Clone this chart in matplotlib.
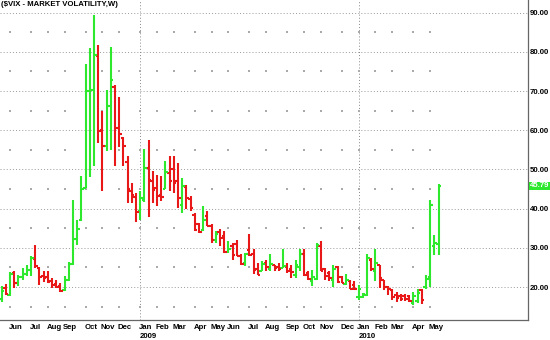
import matplotlib
matplotlib.use("Agg")
import matplotlib.pyplot as plt
import numpy as np
import pandas as pd

plt.rcParams['font.family'] = ['Liberation Sans', 'DejaVu Sans']

# weekly bars of $VIX, first bar = week of 2008-05-19
start = '2008-05-19'
opens = [17.0, 19.8, 18.0, 23.6, 21.0, 22.5, 23.4, 24.3, 27.2, 24.8,
         22.9, 22.6, 21.5, 20.8, 20.2, 19.2, 21.8, 25.8, 32.2, 37.0,
         45.2, 70.0, 70.3, 79.0, 60.0, 56.0, 66.3, 71.0, 60.5, 58.0,
         52.0, 44.5, 43.0, 39.5, 42.3, 50.4, 47.0, 45.3, 43.5, 45.0,
         49.0, 50.0, 47.0, 41.0, 45.5, 42.5, 38.5, 36.0, 34.5, 38.0,
         35.5, 32.0, 34.0, 33.0, 29.0, 30.5, 31.0, 28.0, 26.0, 29.5,
         28.5, 24.5, 24.2, 26.0, 24.5, 25.5, 25.0, 24.9, 25.0, 24.5,
         23.0, 25.0, 28.5, 23.5, 21.5, 22.0, 30.5, 24.5, 23.5, 21.8,
         25.0, 22.5, 20.8, 21.5, 20.5, 17.5, 17.5, 18.0, 27.0, 24.0,
         25.5, 21.9, 20.0, 19.3, 18.0, 17.8, 17.6, 17.6, 16.0, 16.5,
         19.2, 20.0, 22.5, 30.5, 31.0]
highs = [20.2, 20.7, 23.9, 24.0, 23.1, 24.8, 25.7, 27.8, 30.8, 25.0,
         24.0, 24.0, 22.3, 21.9, 21.0, 22.8, 26.5, 42.2, 37.2, 48.2,
         77.0, 81.0, 89.5, 81.8, 64.8, 70.3, 81.3, 71.6, 68.5, 58.4,
         53.5, 46.5, 44.0, 44.4, 55.1, 57.5, 49.5, 48.7, 48.3, 52.1,
         53.4, 53.4, 51.7, 47.9, 46.1, 43.2, 38.9, 36.4, 40.6, 39.4,
         36.0, 34.3, 34.7, 34.3, 31.7, 31.3, 32.1, 28.3, 28.7, 33.4,
         29.6, 26.2, 26.6, 27.0, 28.3, 25.7, 26.0, 29.6, 26.2, 25.7,
         27.0, 29.6, 29.6, 24.0, 24.4, 31.3, 31.7, 24.9, 24.0, 25.7,
         25.3, 22.7, 23.2, 21.9, 21.5, 20.6, 18.5, 28.3, 27.4, 29.6,
         25.7, 21.9, 20.2, 19.6, 18.7, 18.2, 18.2, 18.0, 18.7, 19.6,
         19.6, 23.0, 42.1, 33.2, 46.4]
lows = [16.3, 17.9, 17.7, 19.7, 20.2, 21.9, 22.7, 22.7, 24.8, 20.6,
        21.4, 21.0, 19.7, 19.7, 18.7, 19.0, 21.6, 25.5, 30.8, 36.9,
        45.2, 48.0, 50.8, 56.7, 44.4, 54.6, 55.0, 50.8, 55.8, 50.8,
        41.4, 41.4, 36.7, 37.2, 41.8, 37.9, 41.5, 40.6, 42.0, 44.9,
        44.5, 44.0, 40.2, 38.9, 39.8, 39.4, 34.3, 33.8, 34.3, 35.5,
        31.3, 31.3, 30.4, 28.7, 28.8, 27.0, 27.9, 25.5, 25.3, 27.9,
        23.2, 23.0, 24.0, 24.0, 24.0, 24.0, 24.0, 24.9, 23.6, 22.3,
        22.3, 24.0, 22.7, 21.9, 20.3, 21.9, 24.0, 21.9, 21.5, 20.0,
        21.0, 21.0, 20.6, 19.5, 19.3, 16.8, 17.2, 17.8, 24.0, 21.5,
        19.7, 19.3, 18.0, 16.8, 16.2, 16.5, 16.5, 16.3, 15.3, 15.8,
        15.7, 19.6, 20.0, 28.1, 28.1]
closes = [18.9, 18.1, 23.4, 21.0, 22.6, 23.3, 24.3, 27.3, 25.3, 22.6,
          22.4, 21.3, 20.5, 20.0, 19.0, 21.8, 25.8, 32.2, 34.7, 45.1,
          70.0, 70.3, 79.1, 59.9, 56.1, 66.3, 72.7, 60.5, 59.0, 55.9,
          44.9, 43.4, 39.2, 42.8, 50.4, 47.4, 44.8, 43.2, 42.9, 49.3,
          47.0, 46.6, 42.8, 45.7, 42.7, 40.2, 34.5, 34.0, 37.2, 35.6,
          32.1, 33.4, 32.6, 28.9, 29.6, 28.2, 28.0, 25.9, 28.5, 28.2,
          24.3, 23.1, 25.9, 25.2, 25.8, 24.9, 24.7, 25.3, 24.1, 23.9,
          25.6, 28.3, 23.1, 22.0, 22.5, 30.7, 24.1, 22.8, 22.2, 24.7,
          21.3, 21.1, 21.7, 19.5, 19.4, 19.6, 18.2, 27.3, 24.6, 26.1,
          22.3, 20.0, 19.5, 17.4, 17.3, 16.9, 17.0, 16.5, 17.8, 18.4,
          16.6, 22.1, 40.9, 31.2, 45.79]

title = '($VIX - MARKET VOLATILITY,W)'
yticks = [20, 30, 40, 50, 60, 70, 80, 90]

GREEN = '#2ee82e'
RED = '#e81818'

n = len(closes)
weeks = pd.date_range(start, periods=n, freq='7D')
x = np.arange(n)
o = np.array(opens)
h = np.array(highs)
l = np.array(lows)
c = np.array(closes)
cols = np.where(c >= o, GREEN, RED)

fig = plt.figure(figsize=(5.5, 3.4), dpi=100)
ax = fig.add_axes([0, 20 / 340, 528 / 550, 320 / 340])

# grid
for v in yticks:
    ax.axhline(v, color='#999999', lw=0.7, ls=(0, (1, 2.2)), zorder=0)
month_idx = [i for i in range(1, n) if weeks[i].month != weeks[i - 1].month]
year_idx = [i for i in month_idx if weeks[i].month == 1]
for i in year_idx:
    ax.axvline(i, color='#888888', lw=0.7, ls=(0, (1, 2.2)), zorder=0)
mx, my = np.meshgrid(month_idx, np.arange(15, 90, 10))
ax.scatter(mx.ravel(), my.ravel(), s=0.6, color='#aaaaaa', marker='s',
           linewidths=0, zorder=0)

# OHLC bars
lw = 1.5
ax.vlines(x, l, h, colors=cols, lw=lw, capstyle='butt', zorder=2)
ax.hlines(o, x - 0.62, x, colors=cols, lw=lw, zorder=2)
ax.hlines(c, x, x + 0.62, colors=cols, lw=lw, zorder=2)

ax.set_xlim(-0.38, 125.3)
ax.set_ylim(11.58, 93.24)

for s in ['top', 'left']:
    ax.spines[s].set_visible(False)
for s in ['right', 'bottom']:
    ax.spines[s].set_color('#666666')
    ax.spines[s].set_linewidth(0.9)

ax.yaxis.tick_right()
ax.set_yticks(yticks)
ax.set_yticklabels(['%.2f' % v for v in yticks])
ax.tick_params(axis='y', length=0, pad=1.5, labelsize=5.6)
for t in ax.get_yticklabels():
    t.set_fontweight('bold')
ax.set_xticks([])

tr = ax.get_xaxis_transform()
for i in month_idx:
    ax.text(i - 0.35, -0.022, weeks[i].strftime('%b'), transform=tr,
            ha='left', va='center', fontsize=5.6, fontweight='bold',
            clip_on=False)
for i in year_idx:
    ax.text(i - 0.1, -0.05, str(weeks[i].year), transform=tr,
            ha='left', va='center', fontsize=5.6, fontweight='bold',
            clip_on=False)

ax.text(0.001, 0.997, title, transform=ax.transAxes, ha='left', va='top',
        fontsize=5.6, fontweight='bold')

ax.text(1.003, closes[-1], '%.2f' % closes[-1],
        transform=ax.get_yaxis_transform(), ha='left', va='center',
        fontsize=5.6, fontweight='bold', color='white', clip_on=False,
        bbox=dict(boxstyle='square,pad=0.12', fc=GREEN, ec='none'))

fig.savefig('out.png', dpi=100)
